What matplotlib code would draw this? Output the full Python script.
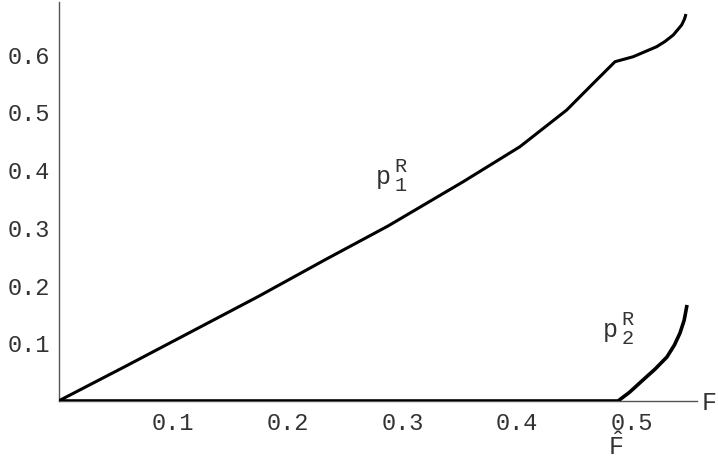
import matplotlib
matplotlib.use('Agg')
from matplotlib import pyplot as plt

# values
f_p1 = [0.0, 0.0577, 0.1158, 0.1739, 0.2321, 0.2873, 0.3529, 0.4023, 0.4431,
        0.4663, 0.4852, 0.5011, 0.5215, 0.5288, 0.5360, 0.5433, 0.5458, 0.5471]
p1 = [0.0, 0.0594, 0.1201, 0.1808, 0.2444, 0.3033, 0.3801, 0.4407, 0.5043,
      0.5506, 0.5880, 0.5967, 0.6140, 0.6231, 0.6343, 0.6516, 0.6620, 0.6707]

f_p2 = [0.0, 0.4878, 0.4978, 0.5096, 0.5200, 0.5305, 0.5370, 0.5419, 0.5455, 0.5480]
p2 = [0.0, 0.0, 0.015, 0.0364, 0.055, 0.0763, 0.097, 0.1179, 0.140, 0.1664]

f_hat = 0.486
x_ticks = [0.1, 0.2, 0.3, 0.4, 0.5]
y_ticks = [0.1, 0.2, 0.3, 0.4, 0.5, 0.6]

mono = 'Liberation Mono'
plt.rcParams['mathtext.fontset'] = 'custom'
plt.rcParams['mathtext.rm'] = mono
plt.rcParams['mathtext.it'] = mono
plt.rcParams['mathtext.bf'] = mono
W, H = 718, 472

fig = plt.figure(figsize=(W / 100, H / 100), dpi=100)
ax = fig.add_axes([58.5 / W, (H - 401) / H, (697 - 58.5) / W, (401 - 2) / H])

ax.plot(f_p1, p1, color='black', lw=2.2, solid_capstyle='butt', zorder=3)
ax.plot(f_p2, p2, color='black', lw=2.6, solid_capstyle='butt', zorder=3)

ax.set_xlim(0, 0.5567)
ax.set_ylim(0, 0.6915)
for s in ['top', 'right']:
    ax.spines[s].set_visible(False)
for s in ['left', 'bottom']:
    ax.spines[s].set_color('#555555')
    ax.spines[s].set_linewidth(1.0)

ax.set_xticks(x_ticks)
ax.set_xticklabels([str(t) for t in x_ticks])
ax.set_yticks(y_ticks)
ax.set_yticklabels([str(t) for t in y_ticks])
ax.tick_params(axis='both', length=0, labelsize=17, labelcolor='#333333')
ax.tick_params(axis='x', pad=8)
ax.tick_params(axis='y', pad=6)
for lab in ax.get_xticklabels() + ax.get_yticklabels():
    lab.set_fontfamily(mono)


def ptext(x, y, s, size, ha='left'):
    fig.text(x / W, 1 - y / H, s, fontsize=size, family=mono,
             color='#333333', ha=ha, va='baseline')


# axis label F
ptext(702, 410, 'F', 18)

# F hat below the axis
fx = ax.transData.transform((f_hat, 0))[0]
ptext(fx, 455, r'$\hat{\mathrm{F}}$', 18, ha='center')

# curve labels: base letter, then the stacked scripts
ptext(376, 184, 'p', 18)
ptext(394, 184, r'${}_{1}^{\mathrm{R}}$', 21)
ptext(603, 337, 'p', 18)
ptext(621, 337, r'${}_{2}^{\mathrm{R}}$', 21)

plt.savefig('out.png', dpi=100)
